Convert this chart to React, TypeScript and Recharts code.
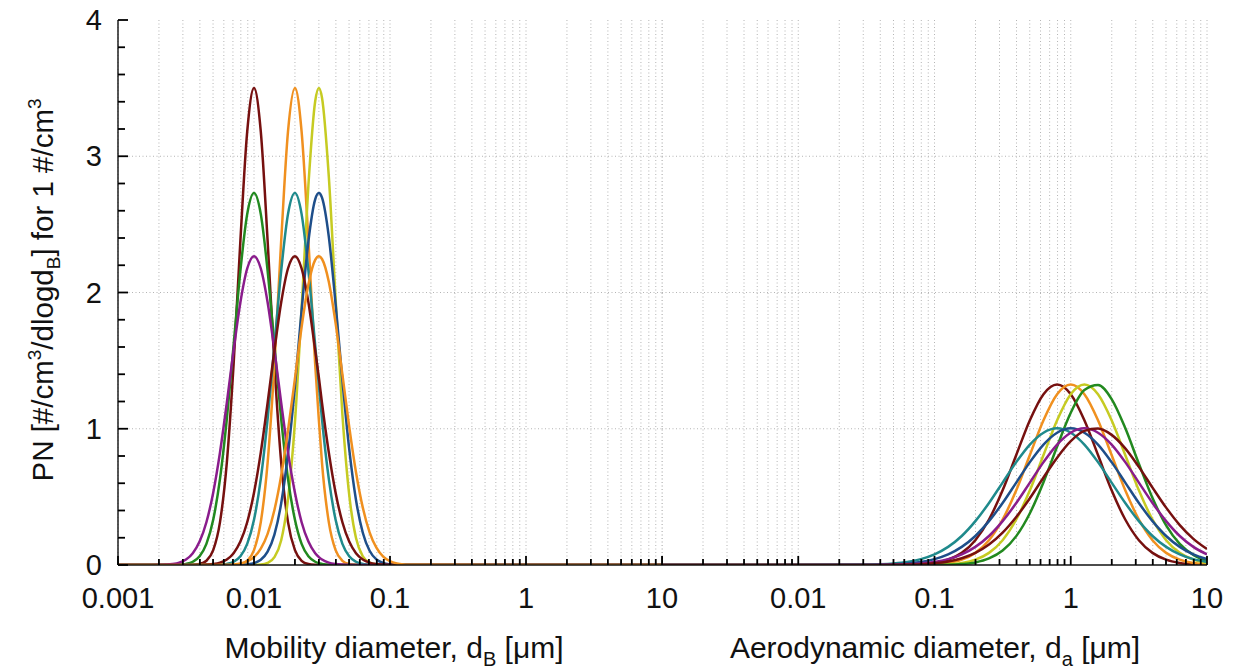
import React from 'react';
import { LineChart, Line, XAxis, YAxis, CartesianGrid, ReferenceLine } from 'recharts';

// Particle number size distributions, 1 #/cm3, lognormal modes.
// Left: mobility diameter (modes 0.01/0.02/0.03 µm, sigma_g 1.3/1.4/1.5)
// Right: aerodynamic diameter (modes 0.8/1.0/1.25/1.5 µm, sigma_g 2.0/2.5)

const FONT = '"Liberation Sans", Arial, Helvetica, sans-serif';
const INK = '#111';
const FRAME_GRAY = '#8a8a8a';
const GRID = '#b4b4b4';

// colour cycle used by the original plotting tool
const COLORS = {
  maroon: '#76100f',
  orange: '#f0901f',
  lime:   '#c6cb22',
  green:  '#22891f',
  teal:   '#1f8a8c',
  blue:   '#1e4e8a',
  purple: '#8a1c8c',
};

// ---------------------------------------------------------------------------
// Mobility diameter panel [µm]
// ---------------------------------------------------------------------------
const dMobility = [
  0.001, 0.001778, 0.001995, 0.002239, 0.002512, 0.002818, 0.003162, 0.003548, 0.003981, 0.004467, 0.005012,
  0.005623, 0.00631, 0.007079, 0.007943, 0.008913, 0.01, 0.01122, 0.01259, 0.01413, 0.01585,
  0.01778, 0.02, 0.02239, 0.02512, 0.02818, 0.03,
  0.03162, 0.03548, 0.03981, 0.04467, 0.05012, 0.05623, 0.0631, 0.07079, 0.07943, 0.08913, 0.1, 0.1122, 0.1259, 0.1413, 0.1585, 10,
];

const mob_d010_s13 = [
  0, 0, 0, 0, 0, 0, 0, 0.001, 0.007, 0.031, 0.109,
  0.315, 0.75, 1.472, 2.382, 3.18, 3.501, 3.18, 2.382, 1.472, 0.75,
  0.315, 0.109, 0.031, 0.007, 0.001, 0,
  0, 0, 0, 0, 0, 0, 0, 0, 0, 0, 0, 0, 0, 0, 0, 0,
];
const mob_d020_s13 = [
  0, 0, 0, 0, 0, 0, 0, 0, 0, 0, 0,
  0, 0, 0.001, 0.007, 0.031, 0.109, 0.315, 0.75, 1.472, 2.382,
  3.18, 3.501, 3.18, 2.382, 1.472, 1.062,
  0.75, 0.315, 0.109, 0.031, 0.007, 0.001, 0, 0, 0, 0, 0, 0, 0, 0, 0, 0,
];
const mob_d030_s13 = [
  0, 0, 0, 0, 0, 0, 0, 0, 0, 0, 0,
  0, 0, 0, 0, 0, 0.001, 0.003, 0.015, 0.057, 0.182,
  0.481, 1.048, 1.881, 2.787, 3.404, 3.501,
  3.43, 2.852, 1.955, 1.106, 0.516, 0.198, 0.063, 0.017, 0.004, 0.001, 0, 0, 0, 0, 0, 0,
];
const mob_d010_s14 = [
  0, 0, 0, 0, 0.001, 0.002, 0.008, 0.024, 0.064, 0.155, 0.332,
  0.632, 1.07, 1.612, 2.16, 2.575, 2.73, 2.575, 2.16, 1.612, 1.07,
  0.632, 0.332, 0.155, 0.064, 0.024, 0.013,
  0.008, 0.002, 0.001, 0, 0, 0, 0, 0, 0, 0, 0, 0, 0, 0, 0, 0,
];
const mob_d020_s14 = [
  0, 0, 0, 0, 0, 0, 0, 0, 0, 0, 0.001,
  0.002, 0.008, 0.024, 0.064, 0.155, 0.332, 0.632, 1.07, 1.612, 2.16,
  2.575, 2.73, 2.575, 2.16, 1.612, 1.322,
  1.07, 0.632, 0.332, 0.155, 0.064, 0.024, 0.008, 0.002, 0.001, 0, 0, 0, 0, 0, 0, 0,
];
const mob_d030_s14 = [
  0, 0, 0, 0, 0, 0, 0, 0, 0, 0, 0,
  0, 0, 0, 0.001, 0.004, 0.013, 0.038, 0.098, 0.223, 0.453,
  0.817, 1.311, 1.871, 2.376, 2.684, 2.73,
  2.696, 2.41, 1.916, 1.355, 0.852, 0.477, 0.237, 0.105, 0.041, 0.015, 0.005, 0.001, 0, 0, 0, 0,
];
const mob_d010_s15 = [
  0, 0, 0.001, 0.003, 0.007, 0.017, 0.04, 0.087, 0.172, 0.314, 0.531,
  0.827, 1.189, 1.576, 1.928, 2.176, 2.266, 2.176, 1.928, 1.576, 1.189,
  0.827, 0.531, 0.314, 0.172, 0.087, 0.058,
  0.04, 0.017, 0.007, 0.003, 0.001, 0, 0, 0, 0, 0, 0, 0, 0, 0, 0, 0,
];
const mob_d020_s15 = [
  0, 0, 0, 0, 0, 0, 0, 0, 0.001, 0.003, 0.007,
  0.017, 0.04, 0.087, 0.172, 0.314, 0.531, 0.827, 1.189, 1.576, 1.928,
  2.176, 2.266, 2.176, 1.928, 1.576, 1.375,
  1.189, 0.827, 0.531, 0.314, 0.172, 0.087, 0.04, 0.017, 0.007, 0.003, 0.001, 0, 0, 0, 0, 0,
];
const mob_d030_s15 = [
  0, 0, 0, 0, 0, 0, 0, 0, 0, 0, 0,
  0.001, 0.001, 0.004, 0.011, 0.026, 0.058, 0.12, 0.229, 0.404, 0.657,
  0.987, 1.367, 1.747, 2.059, 2.239, 2.266,
  2.246, 2.079, 1.775, 1.398, 1.016, 0.681, 0.421, 0.24, 0.127, 0.061, 0.028, 0.011, 0.004, 0.002, 0.001, 0,
];

// ---------------------------------------------------------------------------
// Aerodynamic diameter panel [µm]
// ---------------------------------------------------------------------------
const dAero = [
  0.001, 0.03162, 0.03981, 0.05012, 0.0631, 0.07943, 0.1, 0.1259, 0.1585, 0.1995, 0.2512,
  0.3162, 0.3981, 0.5012, 0.631, 0.7943, 1, 1.259, 1.585,
  1.995, 2.512, 3.162, 3.981, 5.012, 6.31, 7.943, 10,
];

const aero_d080_s20 = [
  0, 0, 0, 0.001, 0.002, 0.005, 0.015, 0.039, 0.089, 0.182, 0.334,
  0.548, 0.807, 1.063, 1.254, 1.325, 1.254, 1.063, 0.807,
  0.548, 0.334, 0.182, 0.089, 0.039, 0.015, 0.005, 0.002,
];
const aero_d100_s20 = [
  0, 0, 0, 0, 0.001, 0.002, 0.005, 0.015, 0.039, 0.089, 0.182,
  0.334, 0.548, 0.807, 1.063, 1.254, 1.325, 1.254, 1.063,
  0.807, 0.548, 0.334, 0.182, 0.089, 0.039, 0.015, 0.005,
];
const aero_d125_s20 = [
  0, 0, 0, 0, 0, 0.001, 0.002, 0.005, 0.015, 0.039, 0.089,
  0.182, 0.334, 0.548, 0.807, 1.063, 1.254, 1.325, 1.254,
  1.063, 0.807, 0.548, 0.334, 0.182, 0.089, 0.039, 0.015,
];
const aero_d150_s20 = [
  0, 0, 0, 0, 0, 0, 0.001, 0.002, 0.007, 0.019, 0.048,
  0.106, 0.212, 0.38, 0.608, 0.87, 1.117, 1.284, 1.321,
  1.218, 1.005, 0.743, 0.492, 0.291, 0.155, 0.074, 0.031,
];
const aero_d080_s25 = [
  0, 0.002, 0.005, 0.011, 0.022, 0.043, 0.078, 0.133, 0.213, 0.322, 0.455,
  0.605, 0.755, 0.884, 0.971, 1.003, 0.971, 0.884, 0.755,
  0.605, 0.455, 0.322, 0.213, 0.133, 0.078, 0.043, 0.022,
];
const aero_d100_s25 = [
  0, 0.001, 0.002, 0.005, 0.011, 0.022, 0.043, 0.078, 0.133, 0.213, 0.322,
  0.455, 0.605, 0.755, 0.884, 0.971, 1.003, 0.971, 0.884,
  0.755, 0.605, 0.455, 0.322, 0.213, 0.133, 0.078, 0.043,
];
const aero_d125_s25 = [
  0, 0, 0.001, 0.002, 0.005, 0.011, 0.022, 0.043, 0.078, 0.133, 0.213,
  0.322, 0.455, 0.605, 0.755, 0.884, 0.971, 1.003, 0.971,
  0.884, 0.755, 0.605, 0.455, 0.322, 0.213, 0.133, 0.078,
];
const aero_d150_s25 = [
  0, 0, 0, 0.001, 0.003, 0.006, 0.013, 0.026, 0.05, 0.089, 0.15,
  0.237, 0.352, 0.49, 0.642, 0.788, 0.909, 0.984, 1.001,
  0.955, 0.856, 0.72, 0.568, 0.421, 0.293, 0.192, 0.117,
];

// axis ticks
const xTicks = [
  0.001, 0.002, 0.003, 0.004, 0.005, 0.006, 0.007, 0.008, 0.009,
  0.01, 0.02, 0.03, 0.04, 0.05, 0.06, 0.07, 0.08, 0.09,
  0.1, 0.2, 0.3, 0.4, 0.5, 0.6, 0.7, 0.8, 0.9,
  1, 2, 3, 4, 5, 6, 7, 8, 9, 10,
];
const xMajor = [0.001, 0.01, 0.1, 1, 10];
const yTicks = [0, 0.2, 0.4, 0.6, 0.8, 1, 1.2, 1.4, 1.6, 1.8, 2, 2.2, 2.4, 2.6, 2.8, 3, 3.2, 3.4, 3.6, 3.8, 4];
const yMajor = [0, 1, 2, 3, 4];
const yGrid = [1, 2, 3];

// series -> colour, in drawing order
const mobilitySeries = [
  { values: mob_d010_s13, color: COLORS.maroon },
  { values: mob_d020_s13, color: COLORS.orange },
  { values: mob_d030_s13, color: COLORS.lime },
  { values: mob_d010_s14, color: COLORS.green },
  { values: mob_d020_s14, color: COLORS.teal },
  { values: mob_d030_s14, color: COLORS.blue },
  { values: mob_d010_s15, color: COLORS.purple },
  { values: mob_d020_s15, color: COLORS.maroon },
  { values: mob_d030_s15, color: COLORS.orange },
];
const aeroSeries = [
  { values: aero_d080_s20, color: COLORS.maroon },
  { values: aero_d100_s20, color: COLORS.orange },
  { values: aero_d125_s20, color: COLORS.lime },
  { values: aero_d150_s20, color: COLORS.green },
  { values: aero_d080_s25, color: COLORS.teal },
  { values: aero_d100_s25, color: COLORS.blue },
  { values: aero_d125_s25, color: COLORS.purple },
  { values: aero_d150_s25, color: COLORS.maroon },
];

function buildRows(xs: number[], series: { values: number[] }[]) {
  return xs.map((d, i) => {
    const row: Record<string, number> = { d };
    series.forEach((s, k) => { row[`c${k}`] = s.values[i]; });
    return row;
  });
}

const mobilityRows = buildRows(dMobility, mobilitySeries);
const aeroRows = buildRows(dAero, aeroSeries);

// ---------------------------------------------------------------------------
// inward tick marks (gnuplot style)
// ---------------------------------------------------------------------------
function xTick(side: 'top' | 'bottom', minLabel: number) {
  return (p: any) => {
    const v = p.payload.value;
    const x = Number(p.x);
    const y = Number(p.y);
    const major = xMajor.includes(v);
    const len = major ? 9 : 6;
    const dir = side === 'bottom' ? -1 : 1;
    return (
      <g>
        <path d={`M${x},${y}V${y + dir * len}`} stroke="#000" strokeWidth={1.8} fill="none" />
        {side === 'bottom' && major && v >= minLabel && (
          <text x={x} y={y + 43} textAnchor="middle" fontSize={29} fontFamily={FONT} fill={INK}>
            {String(v)}
          </text>
        )}
      </g>
    );
  };
}

function yTick(side: 'left' | 'right', withLabel: boolean) {
  return (p: any) => {
    const v = p.payload.value;
    const x = Number(p.x);
    const y = Number(p.y);
    const major = yMajor.includes(v);
    const len = major ? 10 : 7;
    const dir = side === 'left' ? 1 : -1;
    return (
      <g>
        <path d={`M${x},${y}H${x + dir * len}`} stroke="#000" strokeWidth={1.8} fill="none" />
        {withLabel && major && (
          <text x={x - 16} y={y + 10} textAnchor="end" fontSize={29} fontFamily={FONT} fill={INK}>
            {String(v)}
          </text>
        )}
      </g>
    );
  };
}

function Panel({
  rows, series, width, margin, leftLabels, minXLabel, rightFrame,
}: {
  rows: Record<string, number>[];
  series: { color: string }[];
  width: number;
  margin: { top: number; right: number; bottom: number; left: number };
  leftLabels: boolean;
  minXLabel: number;
  rightFrame: string;
}) {
  return (
    <LineChart width={width} height={670} data={rows} margin={margin}>
      <CartesianGrid horizontal={false} stroke={GRID} strokeDasharray="1 2.5" />
      {yGrid.map((v) => (
        <ReferenceLine key={v} y={v} stroke={GRID} strokeDasharray="1 2.5" />
      ))}
      <XAxis
        dataKey="d" type="number" scale="log" domain={[0.001, 10]} allowDataOverflow
        ticks={xTicks} interval={0} height={105} tickSize={0} tickMargin={0} tickLine={false}
        axisLine={{ stroke: INK, strokeWidth: 1.4 }} tick={xTick('bottom', minXLabel)}
      />
      <XAxis
        xAxisId="top" orientation="top" dataKey="d" type="number" scale="log" domain={[0.001, 10]}
        allowDataOverflow ticks={xTicks} interval={0} height={0} tickSize={0} tickMargin={0}
        tickLine={false} axisLine={{ stroke: FRAME_GRAY, strokeWidth: 1.4 }} tick={xTick('top', 0)}
      />
      <YAxis
        type="number" domain={[0, 4]} allowDataOverflow ticks={yTicks} interval={0}
        width={leftLabels ? 118 : 0} tickSize={0} tickMargin={0} tickLine={false}
        axisLine={{ stroke: INK, strokeWidth: 1.4 }} tick={yTick('left', leftLabels)}
      />
      <YAxis
        yAxisId="right" orientation="right" type="number" domain={[0, 4]} allowDataOverflow
        ticks={yTicks} interval={0} width={0} tickSize={0} tickMargin={0} tickLine={false}
        axisLine={{ stroke: rightFrame, strokeWidth: 1.4 }} tick={yTick('right', false)}
      />
      {series.map((s, k) => (
        <Line
          key={k} type="monotone" dataKey={`c${k}`} stroke={s.color} strokeWidth={2.5}
          dot={false} activeDot={false} isAnimationActive={false}
        />
      ))}
    </LineChart>
  );
}

export default function App() {
  return (
    <div style={{ position: 'absolute', left: 0, top: 0, width: 1243, height: 670, background: '#fff', overflow: 'hidden' }}>
      <div style={{ position: 'absolute', left: 0, top: 0 }}>
        <Panel
          rows={mobilityRows} series={mobilitySeries} width={680}
          margin={{ top: 20, right: 18, bottom: 0, left: 0 }}
          leftLabels minXLabel={0.001} rightFrame={INK}
        />
      </div>
      <div style={{ position: 'absolute', left: 662, top: 0 }}>
        <Panel
          rows={aeroRows} series={aeroSeries} width={581}
          margin={{ top: 20, right: 36, bottom: 0, left: 0 }}
          leftLabels={false} minXLabel={0.01} rightFrame={FRAME_GRAY}
        />
      </div>
      <svg width={1243} height={670} style={{ position: 'absolute', left: 0, top: 0, pointerEvents: 'none' }}>
        <g fontFamily={FONT} fontSize={30} fill={INK}>
          <text transform="translate(53 290) rotate(-90)" textAnchor="middle" fontSize={29.5}>
            {'PN [#/cm'}<tspan dy={-12} fontSize={19}>3</tspan><tspan dy={12}>{'/dlogd'}</tspan>
            <tspan dy={7} fontSize={19}>B</tspan><tspan dy={-7}>{'] for 1 #/cm'}</tspan>
            <tspan dy={-12} fontSize={19}>3</tspan>
          </text>
          <text x={394} y={658} textAnchor="middle">
            {'Mobility diameter, d'}<tspan dy={8} fontSize={20}>B</tspan><tspan dy={-8}>{' [μm]'}</tspan>
          </text>
          <text x={935} y={658} textAnchor="middle">
            {'Aerodynamic diameter, d'}<tspan dy={8} fontSize={20}>a</tspan><tspan dy={-8}>{' [μm]'}</tspan>
          </text>
        </g>
      </svg>
    </div>
  );
}
